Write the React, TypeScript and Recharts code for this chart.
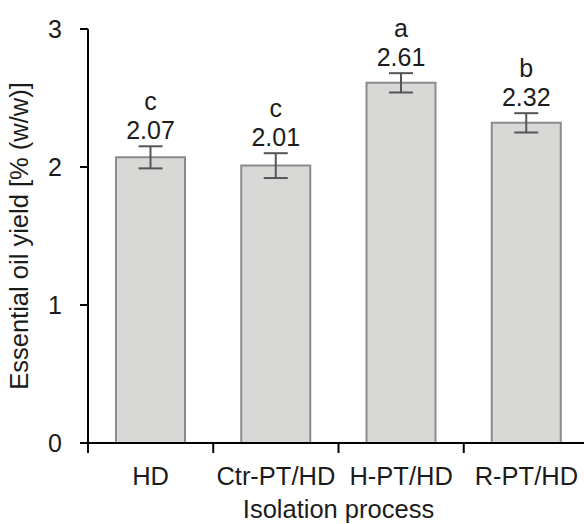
import { BarChart, Bar, XAxis, YAxis, ErrorBar, LabelList } from 'recharts'

const categories = ['HD', 'Ctr-PT/HD', 'H-PT/HD', 'R-PT/HD']
const yields = [2.07, 2.01, 2.61, 2.32]
const errors = [0.08, 0.09, 0.07, 0.07]
const letters = ['c', 'c', 'a', 'b']
const yTicks = [0, 1, 2, 3]

const W = 592
const H = 524
const YAXIS_W = 88
const MARGIN = { top: 29, right: 3, bottom: 0, left: 0 }
const BAND = (W - MARGIN.left - MARGIN.right - YAXIS_W) / categories.length
const FONT = '"Liberation Sans", Arial, sans-serif'
const INK = '#1c1c1c'

const data = categories.map((name, i) => ({
  name, value: yields[i], err: errors[i], letter: letters[i],
}))

function CategoryTick(props: any) {
  const { x, y, payload } = props
  return (
    <g>
      <line x1={x - BAND / 2} x2={x - BAND / 2} y1={y} y2={y + 10} stroke="#000" strokeWidth={2} />
      <text x={x} y={y + 42} textAnchor="middle" fontSize={25.5} fill={INK} fontFamily={FONT}>
        {payload.value}
      </text>
    </g>
  )
}

function BarTopLabel(props: any) {
  const { x, y, width, height, index } = props
  const d = data[index]
  const perUnit = height / d.value
  const errTop = y - d.err * perUnit
  const cx = x + width / 2
  return (
    <g fontFamily={FONT} fill={INK} fontSize={25} textAnchor="middle">
      <text x={cx} y={errTop - 36}>{d.letter}</text>
      <text x={cx} y={errTop - 7}>{d.value.toFixed(2)}</text>
    </g>
  )
}

export default function App() {
  return (
    <div style={{ position: 'absolute', left: 0, top: 0, width: 584, height: H, overflow: 'hidden', background: '#fff' }}>
      <BarChart width={W} height={H} data={data} margin={MARGIN}>
        <XAxis
          dataKey="name"
          height={81}
          tickSize={0}
          tickMargin={0}
          tickLine={false}
          axisLine={{ stroke: '#000', strokeWidth: 2 }}
          tick={<CategoryTick />}
          interval={0}
          label={{ value: 'Isolation process', position: 'insideBottom', offset: 6, fontSize: 25.5, fill: INK, fontFamily: FONT }}
        />
        <YAxis
          width={YAXIS_W}
          domain={[0, 3]}
          ticks={yTicks}
          tickSize={8}
          tickMargin={18}
          axisLine={{ stroke: '#000', strokeWidth: 2 }}
          tickLine={{ stroke: '#000', strokeWidth: 2 }}
          tick={{ fontSize: 25, fill: INK, fontFamily: FONT }}
          label={{
            value: 'Essential oil yield [% (w/w)]', angle: -90, position: 'insideLeft', offset: 19,
            style: { textAnchor: 'middle' }, fontSize: 25.5, fill: INK, fontFamily: FONT,
          }}
        />
        <Bar dataKey="value" barSize={69} fill="#d8d8d6" stroke="#8a8a8a" strokeWidth={2} isAnimationActive={false}>
          <ErrorBar dataKey="err" width={12} stroke="#555" strokeWidth={2} direction="y" />
          <LabelList dataKey="value" content={<BarTopLabel />} />
        </Bar>
      </BarChart>
    </div>
  )
}
